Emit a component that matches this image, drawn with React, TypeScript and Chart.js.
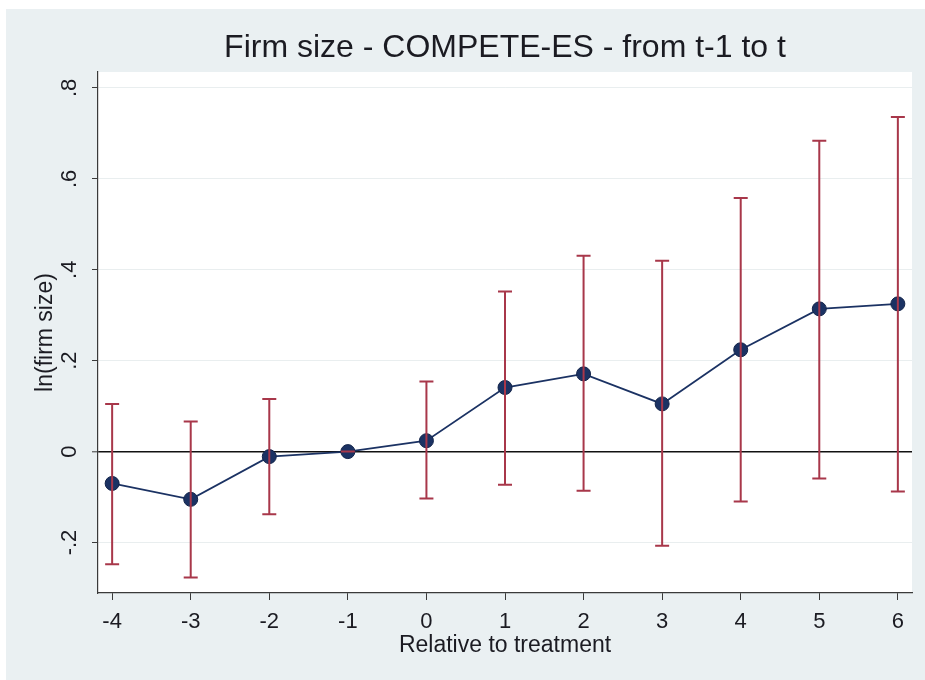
import React, { useEffect, useRef } from 'react';
import { Chart, registerables } from 'chart.js';

Chart.register(...registerables);

const TITLE = 'Firm size - COMPETE-ES - from t-1 to t';
const X_TITLE = 'Relative to treatment';
const Y_TITLE = 'ln(firm size)';

const xValues = [-4, -3, -2, -1, 0, 1, 2, 3, 4, 5, 6];
const xTickLabels = ['-4', '-3', '-2', '-1', '0', '1', '2', '3', '4', '5', '6'];
const estimates = [-0.070, -0.105, -0.011, 0, 0.024, 0.141, 0.171, 0.105, 0.224, 0.314, 0.325];
const ciLower = [-0.248, -0.277, -0.138, 0, -0.103, -0.073, -0.086, -0.207, -0.110, -0.059, -0.088];
const ciUpper = [0.105, 0.066, 0.116, 0, 0.154, 0.352, 0.431, 0.420, 0.558, 0.684, 0.736];
const yTickValues = [-0.2, 0, 0.2, 0.4, 0.6, 0.8];
const yTickLabels = ['-.2', '0', '.2', '.4', '.6', '.8'];

const FONT = '"Liberation Sans", Arial, Helvetica, sans-serif';
const OUTER_BG = '#EAF0F2';
const TEXT = '#1b1b22';
const AXIS = '#3a3a3a';
const NAVY = '#1B3263';
const CI_COLOR = '#A8374A';

const bgPlugin = {
  id: 'bgPlugin',
  beforeDraw(chart: any) {
    const { ctx, width, height, chartArea } = chart;
    ctx.save();
    ctx.fillStyle = '#ffffff';
    ctx.fillRect(0, 0, width, height);
    ctx.fillStyle = OUTER_BG;
    ctx.fillRect(6, 9, width - 6, height - 9);
    ctx.fillStyle = '#ffffff';
    ctx.fillRect(chartArea.left, chartArea.top, chartArea.right - chartArea.left, chartArea.bottom - chartArea.top);
    ctx.restore();
  },
};

const errorBarPlugin = {
  id: 'errorBarPlugin',
  afterDatasetsDraw(chart: any) {
    const { ctx } = chart;
    const xs = chart.scales.x;
    const ys = chart.scales.y;
    ctx.save();
    ctx.strokeStyle = CI_COLOR;
    ctx.lineWidth = 2;
    const cap = 7;
    xValues.forEach((xv, i) => {
      const px = xs.getPixelForValue(xv);
      const lo = ys.getPixelForValue(ciLower[i]);
      const hi = ys.getPixelForValue(ciUpper[i]);
      ctx.beginPath();
      ctx.moveTo(px, lo);
      ctx.lineTo(px, hi);
      ctx.moveTo(px - cap, lo);
      ctx.lineTo(px + cap, lo);
      ctx.moveTo(px - cap, hi);
      ctx.lineTo(px + cap, hi);
      ctx.stroke();
    });
    ctx.restore();
  },
};

const textPlugin = {
  id: 'textPlugin',
  afterDraw(chart: any) {
    const { ctx, chartArea } = chart;
    const ys = chart.scales.y;
    ctx.save();
    ctx.fillStyle = TEXT;
    ctx.font = `32px ${FONT}`;
    ctx.textAlign = 'center';
    ctx.textBaseline = 'middle';
    ctx.fillText(TITLE, (chartArea.left + chartArea.right) / 2, 48);
    ctx.font = `22px ${FONT}`;
    yTickValues.forEach((v, i) => {
      const py = ys.getPixelForValue(v);
      ctx.save();
      ctx.translate(70, py);
      ctx.rotate(-Math.PI / 2);
      ctx.fillText(yTickLabels[i], 0, 0);
      ctx.restore();
    });
    ctx.restore();
  },
};

export default function App() {
  const ref = useRef<HTMLCanvasElement>(null);
  useEffect(() => {
    document.body.style.margin = '0';
    const canvas = ref.current!;
    const chart = new Chart(canvas, {
      type: 'line',
      data: {
        datasets: [
          {
            data: xValues.map((x, i) => ({ x, y: estimates[i] })),
            borderColor: NAVY,
            borderWidth: 1.8,
            pointRadius: 7,
            pointBackgroundColor: NAVY,
            pointBorderColor: '#13244a',
            pointBorderWidth: 1,
            tension: 0,
          },
        ],
      },
      options: {
        responsive: false,
        animation: false,
        devicePixelRatio: 1,
        layout: { padding: { top: 72, right: 13, bottom: 0, left: 0 } },
        plugins: {
          legend: { display: false },
          tooltip: { enabled: false },
          title: { display: false },
        },
        scales: {
          x: {
            type: 'linear',
            min: -4.18,
            max: 6.18,
            afterBuildTicks: (s: any) => {
              s.ticks = xValues.map((v) => ({ value: v }));
            },
            afterFit: (s: any) => {
              s.height = 87;
            },
            grid: { drawOnChartArea: false, tickLength: 7, tickColor: AXIS, tickWidth: 1 },
            border: { color: AXIS, width: 1.2 },
            ticks: {
              padding: 9,
              autoSkip: false,
              maxRotation: 0,
              color: TEXT,
              font: { family: FONT, size: 22 },
              callback: (v: any) => {
                const idx = xValues.indexOf(Number(v));
                return idx >= 0 ? xTickLabels[idx] : '';
              },
            },
            title: {
              display: true,
              text: X_TITLE,
              color: TEXT,
              font: { family: FONT, size: 23 },
              padding: { top: 0, bottom: 21 },
            },
          },
          y: {
            type: 'linear',
            min: -0.311,
            max: 0.835,
            afterBuildTicks: (s: any) => {
              s.ticks = yTickValues.map((v) => ({ value: v }));
            },
            afterFit: (s: any) => {
              s.width = 98;
            },
            grid: {
              color: (c: any) => (c.tick && c.tick.value === 0 ? '#111111' : '#E9EEEF'),
              lineWidth: (c: any) => (c.tick && c.tick.value === 0 ? 1.6 : 1),
              tickLength: 6,
              tickColor: AXIS,
              tickWidth: 1,
            },
            border: { color: AXIS, width: 1.2 },
            ticks: { display: false },
            title: {
              display: true,
              text: Y_TITLE,
              color: TEXT,
              font: { family: FONT, size: 23 },
              padding: { top: 32, bottom: 0 },
            },
          },
        },
      },
      plugins: [bgPlugin, errorBarPlugin, textPlugin],
    } as any);
    return () => chart.destroy();
  }, []);
  return <canvas ref={ref} width={925} height={680} style={{ display: 'block' }} />;
}
